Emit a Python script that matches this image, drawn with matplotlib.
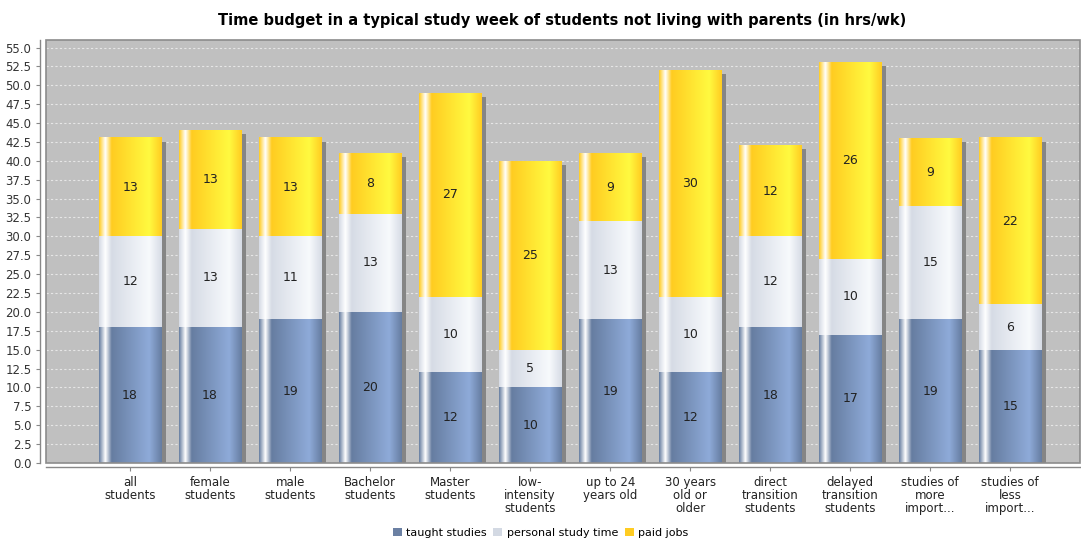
import numpy as np
import matplotlib
matplotlib.use("Agg")
import matplotlib.pyplot as plt
from matplotlib.patches import Patch, Rectangle

categories = ["all\nstudents", "female\nstudents", "male\nstudents", "Bachelor\nstudents",
              "Master\nstudents", "low-\nintensity\nstudents", "up to 24\nyears old",
              "30 years\nold or\nolder", "direct\ntransition\nstudents",
              "delayed\ntransition\nstudents", "studies of\nmore\nimport...",
              "studies of\nless\nimport..."]
taught = [18, 18, 19, 20, 12, 10, 19, 12, 18, 17, 19, 15]
personal = [12, 13, 11, 13, 10, 5, 13, 10, 12, 10, 15, 6]
paid = [13, 13, 13, 8, 27, 25, 9, 30, 12, 26, 9, 22]
series_names = ["taught studies", "personal study time", "paid jobs"]

# base colour / brighter colour per series (JFreeChart style gradient)
base_cols = [(0.40, 0.49, 0.63), (0.84, 0.86, 0.90), (1.00, 0.80, 0.13)]
bright_cols = [(0.56, 0.67, 0.85), (0.97, 0.98, 0.99), (1.00, 0.98, 0.25)]
legend_cols = ["#6b80a3", "#d3d9e3", "#ffcc22"]


def gradient_row(c0, c1, n=200):
    t = np.linspace(0, 1, n)
    c0 = np.array(c0)
    c1 = np.array(c1)
    w = np.array([1.0, 1.0, 1.0])
    out = np.zeros((1, n, 3))
    for i, v in enumerate(t):
        if v < 0.1:
            f = v / 0.1
            col = c0 + (w - c0) * f
        elif v < 0.2:
            f = (v - 0.1) / 0.1
            col = w + (c0 - w) * f
        elif v < 0.8:
            f = (v - 0.2) / 0.6
            col = c0 + (c1 - c0) * f
        else:
            f = (v - 0.8) / 0.2
            col = c1 + (c0 - c1) * f
        out[0, i] = col
    return out


fig = plt.figure(figsize=(10.81, 5.4), dpi=100)
ax = fig.add_axes([0.0426, 0.1426, 0.9564, 0.7834])
ax.set_facecolor("#c0c0c0")

# axis lines sit a few pixels away from the plot area, JFreeChart style
# (set before the ticks, moving a spine resets the tick styling)
ax.spines["left"].set_position(("outward", 4))
ax.spines["bottom"].set_position(("outward", 3))
ax.spines["top"].set_visible(False)
ax.spines["right"].set_visible(False)
for sp in ["left", "bottom"]:
    ax.spines[sp].set_color("#888888")
    ax.spines[sp].set_linewidth(1.0)

x = np.arange(len(categories))
width = 0.775
ymax = 56.0
xlim = (-1.05, 11.87)

totals = np.array(taught) + np.array(personal) + np.array(paid)

# shadow
ax.bar(x + width / 2 + 0.03, totals - 0.5, width=0.06, bottom=0, color="#858585",
       zorder=1)

stacks = [taught, personal, paid]
bottoms = np.zeros(len(categories))
for s, vals in enumerate(stacks):
    img = gradient_row(base_cols[s], bright_cols[s])
    for i in range(len(categories)):
        b = bottoms[i]
        v = vals[i]
        ax.imshow(img, extent=(x[i] - width / 2, x[i] + width / 2, b, b + v),
                  aspect="auto", interpolation="bilinear", zorder=2)
        ax.text(x[i], b + v / 2, str(v), ha="center", va="center", fontsize=9,
                color="#222222", zorder=3)
    bottoms = bottoms + np.array(vals)

ax.set_xlim(*xlim)
ax.set_ylim(0, ymax)

ax.set_yticks(np.arange(0, 55.1, 2.5))
ax.set_yticklabels([f"{v:.1f}" for v in np.arange(0, 55.1, 2.5)], fontsize=8.5,
                   color="#333333")
ax.yaxis.grid(True, color="#e6e6e6", linestyle=(0, (2, 2)), linewidth=0.8)
ax.set_axisbelow(True)
ax.set_xticks(x)
ax.set_xticklabels(categories, fontsize=8.5, color="#222222", linespacing=1.0)
ax.tick_params(axis="x", length=3, color="#888888")
ax.tick_params(axis="y", length=3, color="#888888")

ax.add_patch(Rectangle((0, 0), 1, 1, transform=ax.transAxes, fill=False,
                       edgecolor="#8c8c8c", linewidth=1.2, zorder=5, clip_on=False))

fig.suptitle("Time budget in a typical study week of students not living with parents (in hrs/wk)",
             fontsize=10.5, fontweight="bold", y=0.975, x=0.52)

handles = [Patch(facecolor=legend_cols[k], edgecolor="none", label=series_names[k])
           for k in range(3)]
fig.legend(handles=handles, loc="lower center", ncol=3, frameon=False, fontsize=8,
           bbox_to_anchor=(0.5, -0.015), handlelength=0.8, handleheight=0.8,
           handletextpad=0.4, columnspacing=0.6)

fig.savefig("out.png", dpi=100)
